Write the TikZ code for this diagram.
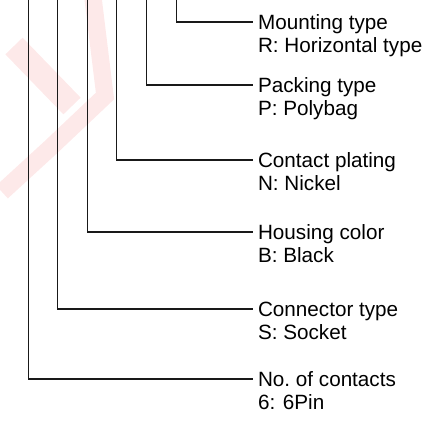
\documentclass[tikz,border=0pt]{standalone}
\usepackage{fontspec}
\setmainfont{Liberation Sans}
\usetikzlibrary{positioning}
\definecolor{wmark}{RGB}{253,233,233}
\tikzset{
    lbl/.style={anchor=west, inner xsep=3.6pt, inner ysep=0pt, text height=14pt, text depth=2.9pt, font=\fontsize{15.5pt}{17pt}\selectfont},
    lead/.style={draw=black!90, line width=0.9pt}
}
\begin{document}
\begin{tikzpicture}[x=0.75pt,y=-0.75pt]
        \useasboundingbox (0,0) rectangle (439,421);
        % faint mark in the back
        \draw[wmark, line width=18pt] (14,46) -- (72,106);
        \draw[wmark, line width=13pt] (93,-2) -- (105,96) -- (50,148) -- (2,192);
        % top ends of the leads
        \coordinate (nc) at (28.7,0);
        \coordinate (ct) at (57.2,0);
        \coordinate (hc) at (87.3,0);
        \coordinate (cp) at (116.5,0);
        \coordinate (pk) at (146.7,0);
        \coordinate (mt) at (176.7,0);
        % labels
        \node[lbl] (mount) at (253,22) {Mounting type};
        \node[lbl, below right=0.1pt and 0pt of mount.south west] (mountv) {R: Horizontal type};
        \node[lbl] (pack) at (253,85) {Packing type};
        \node[lbl, below right=0.1pt and 0pt of pack.south west] (packv) {P: Polybag};
        \node[lbl] (plate) at (253,160) {Contact plating};
        \node[lbl, below right=0.1pt and 0pt of plate.south west] (platev) {N: Nickel};
        \node[lbl] (house) at (253,232) {Housing color};
        \node[lbl, below right=0.1pt and 0pt of house.south west] (housev) {B: Black};
        \node[lbl] (conn) at (253,309) {Connector type};
        \node[lbl, below right=0.1pt and 0pt of conn.south west] (connv) {S: Socket};
        \node[lbl] (pins) at (253,379) {No.\ of contacts};
        \node[lbl, below right=0.1pt and 0pt of pins.south west] (pinsv) {6: 6Pin};
        % leads
        \draw[lead] (mt) |- (mount.west);
        \draw[lead] (pk) |- (pack.west);
        \draw[lead] (cp) |- (plate.west);
        \draw[lead] (hc) |- (house.west);
        \draw[lead] (ct) |- (conn.west);
        \draw[lead] (nc) |- (pins.west);
\end{tikzpicture}
\end{document}
